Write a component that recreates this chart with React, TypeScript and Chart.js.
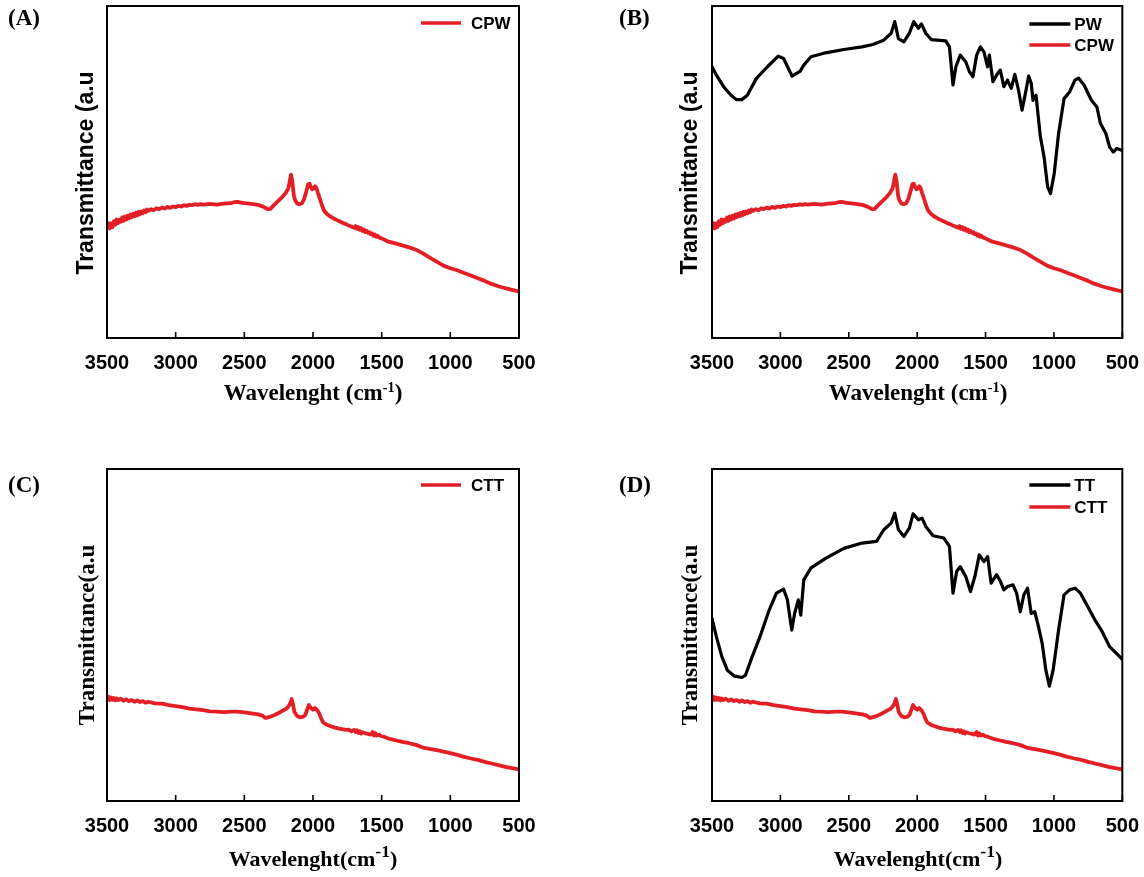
import React, { useEffect, useRef } from "react";
import { Chart, registerables } from "chart.js";

Chart.register(...registerables);

// ---------- DATA ----------
const waveTicks = [3500, 3000, 2500, 2000, 1500, 1000, 500];

const cpwWave = [3500,3490,3480,3470,3460,3450,3440,3430,3420,3410,3400,3390,3380,3370,3360,3350,3340,3330,3320,3310,3300,3290,3280,3270,3260,3250,3240,3230,3220,3210,
  3200,3180,3160,3140,3120,3100,3080,3060,3040,3020,3000,2980,2960,2940,2920,2900,2880,2860,2840,2820,2800,
  2750,2700,2650,2600,2575,2550,2525,2500,
  2450,2400,2360,2330,2310,2290,2260,2230,2200,2180,2170,2160,2150,2140,2130,2115,2100,2080,2065,2050,2035,2025,2015,2005,1995,1985,1975,1965,1950,1935,1920,1900,1875,1850,1825,1800,1780,1760,1740,1720,1700,
  1690,1680,1670,1660,1650,1640,1630,1620,1610,1600,1590,1580,1570,1560,1550,1540,1530,1520,
  1500,1480,1450,
  1400,1350,1300,1250,1200,1150,1100,1050,1000,950,900,850,800,750,700,650,600,550,500];
const cpwT = [33.5,34.6,33.0,34.5,33.4,35.2,34.1,35.7,34.6,35.6,35.0,36.3,35.3,36.6,35.7,36.8,36.0,37.2,36.4,37.4,36.7,37.7,36.9,38.0,37.3,38.1,37.6,38.4,37.9,38.7,
  38.3,38.8,38.5,39.1,38.8,39.3,39.0,39.5,39.2,39.6,39.4,39.8,39.6,40.0,39.8,40.1,40.0,40.3,40.1,40.3,40.2,
  40.4,40.2,40.5,40.6,40.9,41.0,40.8,40.6,
  40.4,40.1,39.5,38.8,38.9,39.8,41.0,42.2,43.6,45.0,47.0,49.2,47.0,43.0,41.5,40.5,40.3,40.6,41.8,44.0,46.3,46.5,45.5,44.8,45.0,45.7,45.2,43.8,42.0,40.0,38.4,37.4,36.6,36.0,35.5,35.0,34.6,34.3,33.9,33.6,33.2,
  33.7,32.9,33.4,32.6,33.1,32.3,32.7,31.9,32.3,31.7,31.9,31.3,31.5,30.8,31.2,30.5,30.8,30.3,
  30.0,29.6,29.0,
  28.5,27.9,27.3,26.6,25.5,24.2,23.0,21.8,21.0,20.4,19.6,18.8,18.0,17.2,16.3,15.6,15.0,14.5,14.0];

const pwWave = [3500,3468,3415,3361,3322,3282,3242,3175,3095,3016,2976,2936,2915,2882,2856,2829,2776,2670,2536,2403,2324,2244,2190,2164,2137,2097,2057,2025,1991,1969,1937,1897,1791,1764,1738,1717,1685,1645,1618,1592,1565,1538,1512,1485,1472,1446,1419,1392,1366,1339,1312,1286,1259,1233,1206,1185,1166,1153,1131,1099,1072,1046,1025,998,966,926,886,846,820,780,726,686,660,620,593,566,540,500];
const pwT = [81.7,79.2,75.7,73.1,71.8,71.8,73.1,78.2,81.7,84.9,84.2,80.7,78.9,79.7,80.3,82.2,84.7,85.9,86.9,87.7,88.4,89.7,91.8,95.3,90.2,89.2,91.8,95.3,93.3,94.6,91.8,89.9,89.5,87.7,76.2,81.7,85.2,83.2,80.2,78.7,85.2,87.7,86.2,81.7,85.2,77.2,79.2,80.7,75.7,77.7,75.2,79.4,74.7,68.6,74.2,78.9,76.7,71.6,73.1,60.6,54.5,45.5,43.5,49.5,61.6,72.1,74.1,77.7,78.3,76.2,71.6,69.6,64.6,61.6,57.5,56.0,57.1,56.5];

const cttWave = [3500,3490,3480,3470,3460,3450,3440,3430,3420,
  3400,3380,3360,3340,3320,3300,3280,3260,3240,3220,3200,
  3150,3100,3050,3000,2950,2900,2850,2800,2750,2700,2650,2600,2550,2500,2450,2400,
  2370,2345,2330,2310,2280,2250,2220,2190,2170,2155,2145,2135,2115,2095,2070,2055,2040,2030,2015,2000,1985,1970,1955,1940,1925,1900,1870,1840,1810,1780,1760,1740,1720,1700,
  1690,1680,1670,1660,1650,1640,1620,1600,1580,1565,1555,1545,1535,1520,1500,1480,1450,
  1400,1350,1300,1250,1200,1150,1100,1050,1000,950,900,850,800,750,700,650,600,550,500];
const cttT = [30.6,31.4,30.4,31.2,30.5,31.0,30.3,30.9,30.4,
  30.8,30.2,30.6,30.1,30.4,29.9,30.3,29.8,30.1,29.6,29.9,
  29.4,29.3,28.9,28.6,28.3,27.8,27.6,27.4,27.0,26.9,26.8,26.9,26.9,26.7,26.4,26.1,
  25.7,25.0,25.2,25.4,25.9,26.5,27.2,27.9,29.0,30.7,29.0,26.8,25.6,25.2,25.4,26.0,27.8,28.9,28.0,27.5,28.0,27.4,26.4,24.8,23.6,23.0,22.5,22.1,21.8,21.6,21.4,21.5,21.0,21.4,
  20.8,21.3,20.5,21.0,20.3,20.7,20.4,20.2,20.0,20.8,19.7,20.4,19.7,20.0,19.5,19.3,18.8,
  18.3,17.8,17.4,16.9,16.1,15.7,15.3,14.9,14.4,13.9,13.3,12.8,12.4,11.8,11.3,10.8,10.3,9.9,9.5];

const ttWave = [3500,3468,3428,3388,3335,3282,3255,3215,3149,3082,3029,2976,2949,2917,2896,2869,2851,2829,2776,2670,2536,2403,2297,2244,2190,2164,2137,2097,2057,2030,1991,1964,1937,1884,1805,1764,1738,1711,1685,1645,1610,1578,1546,1512,1485,1459,1419,1392,1366,1339,1299,1273,1246,1220,1193,1166,1140,1113,1086,1059,1033,1006,966,926,886,846,806,753,700,647,593,540,500];
const ttT = [55.0,49.5,43.5,39.4,37.6,37.2,37.9,42.5,49.5,57.5,62.6,63.8,60.6,51.5,56.5,60.6,56.0,66.6,70.2,73.1,76.1,77.7,78.2,81.7,83.7,86.7,81.7,79.7,82.2,86.5,84.7,85.2,82.7,79.9,79.2,76.7,62.6,69.2,70.6,67.6,63.1,67.6,74.1,72.1,73.6,65.6,68.2,66.2,63.6,64.6,65.1,62.6,57.0,62.1,64.1,56.5,57.0,52.5,47.5,39.4,34.6,39.4,51.5,62.1,63.6,64.1,62.6,58.6,54.5,51.0,46.5,44.3,42.7];

const RED = "#e31e24";
const BLACK = "#000000";
const SANS = '"Liberation Sans", Arial, Helvetica, sans-serif';
const SERIF = '"Liberation Serif", "Times New Roman", Times, serif';

type Series = { label: string; wave: number[]; vals: number[]; color: string };

type PanelCfg = {
  id: string;
  left: number;
  top: number;
  w: number;
  h: number;
  pad: { left: number; top: number; right: number; bottom: number };
  series: Series[];
  legend: { x0: number; y0: number; lineLen: number; gap: number; rowGap: number };
};

const panels: PanelCfg[] = [
  {
    id: "A", left: 0, top: 0, w: 560, h: 430,
    pad: { left: 107, top: 6, right: 41, bottom: 52 },
    series: [{ label: "CPW", wave: cpwWave, vals: cpwT, color: RED }],
    legend: { x0: 98, y0: 17, lineLen: 40, gap: 10, rowGap: 21 },
  },
  {
    id: "B", left: 570, top: 0, w: 574, h: 430,
    pad: { left: 142, top: 6, right: 20, bottom: 52 },
    series: [
      { label: "PW", wave: pwWave, vals: pwT, color: BLACK },
      { label: "CPW", wave: cpwWave, vals: cpwT, color: RED },
    ],
    legend: { x0: 93, y0: 18, lineLen: 41, gap: 4, rowGap: 21 },
  },
  {
    id: "C", left: 0, top: 440, w: 560, h: 437,
    pad: { left: 107, top: 29, right: 41, bottom: 36 },
    series: [{ label: "CTT", wave: cttWave, vals: cttT, color: RED }],
    legend: { x0: 98, y0: 16, lineLen: 40, gap: 10, rowGap: 22 },
  },
  {
    id: "D", left: 570, top: 440, w: 574, h: 437,
    pad: { left: 142, top: 29, right: 20, bottom: 36 },
    series: [
      { label: "TT", wave: ttWave, vals: ttT, color: BLACK },
      { label: "CTT", wave: cttWave, vals: cttT, color: RED },
    ],
    legend: { x0: 93, y0: 16, lineLen: 41, gap: 4, rowGap: 22 },
  },
];

function makeFramePlugin() {
  return {
    id: "frameTicks",
    afterDatasetsDraw(chart: any) {
      const { ctx, chartArea: a, scales } = chart;
      ctx.save();
      ctx.strokeStyle = "#000";
      ctx.lineWidth = 2;
      ctx.strokeRect(a.left, a.top, a.right - a.left, a.bottom - a.top);
      ctx.lineWidth = 1.6;
      scales.x.ticks.forEach((t: any) => {
        const px = scales.x.getPixelForValue(t.value);
        ctx.beginPath();
        ctx.moveTo(px, a.bottom);
        ctx.lineTo(px, a.bottom - 6);
        ctx.stroke();
      });
      ctx.restore();
    },
  };
}

function makeLegendPlugin(cfg: PanelCfg["legend"]) {
  return {
    id: "insideLegend",
    afterDraw(chart: any) {
      const { ctx, chartArea: a } = chart;
      ctx.save();
      chart.data.datasets.forEach((ds: any, i: number) => {
        const y = a.top + cfg.y0 + i * cfg.rowGap;
        const xs = a.right - cfg.x0;
        ctx.strokeStyle = ds.borderColor;
        ctx.lineWidth = 3.5;
        ctx.lineCap = "butt";
        ctx.beginPath();
        ctx.moveTo(xs, y);
        ctx.lineTo(xs + cfg.lineLen, y);
        ctx.stroke();
        ctx.fillStyle = "#000";
        ctx.font = `bold 17px ${SANS}`;
        ctx.textBaseline = "middle";
        ctx.textAlign = "left";
        ctx.fillText(ds.label, xs + cfg.lineLen + cfg.gap, y + 1);
      });
      ctx.restore();
    },
  };
}

function Panel({ cfg }: { cfg: PanelCfg }) {
  const ref = useRef<HTMLCanvasElement | null>(null);
  useEffect(() => {
    if (!ref.current) return;
    const chart = new Chart(ref.current, {
      type: "line",
      data: {
        datasets: cfg.series.map((s) => ({
          label: s.label,
          data: s.wave.map((w, i) => ({ x: w, y: s.vals[i] })),
          borderColor: s.color,
          backgroundColor: s.color,
          borderWidth: s.color === RED ? 3.8 : 3.2,
          borderJoinStyle: "round",
          borderCapStyle: "round",
          pointRadius: 0,
          tension: 0,
          fill: false,
        })),
      },
      options: {
        animation: false,
        responsive: false,
        devicePixelRatio: 1,
        layout: { padding: cfg.pad },
        plugins: { legend: { display: false }, tooltip: { enabled: false } },
        scales: {
          x: {
            type: "linear",
            reverse: true,
            min: 500,
            max: 3500,
            afterBuildTicks: (s: any) => {
              s.ticks = waveTicks.map((v) => ({ value: v }));
            },
            ticks: {
              font: { family: SANS, weight: "bold", size: 20 },
              color: "#000",
              padding: 5,
              maxRotation: 0,
              autoSkip: false,
              callback: (v: any) => String(v),
            },
            grid: { display: false },
            border: { display: false },
            afterFit: (s: any) => {
              s.height = 40;
            },
          },
          y: { display: false, min: 0, max: 100 },
        },
      } as any,
      plugins: [makeFramePlugin(), makeLegendPlugin(cfg.legend)],
    });
    return () => chart.destroy();
  }, [cfg]);
  return (
    <canvas
      ref={ref}
      width={cfg.w}
      height={cfg.h}
      style={{ position: "absolute", left: cfg.left, top: cfg.top, width: cfg.w, height: cfg.h, display: "block" }}
    />
  );
}

const abs = (s: React.CSSProperties): React.CSSProperties => ({ position: "absolute", whiteSpace: "nowrap", color: "#000", ...s });

export default function App() {
  const panelLabel = (t: string, x: number, y: number) => (
    <div style={abs({ left: x, top: y - 12, lineHeight: "24px", font: `bold 23px ${SERIF}` })}>{t}</div>
  );
  const xTitle = (cx: number, cy: number, spaced: boolean) => (
    <div
      style={abs({
        left: cx - 150, top: cy - 13, width: 300, textAlign: "center", lineHeight: "26px",
        font: `bold ${spaced ? 23 : 22}px ${SERIF}`,
      })}
    >
      {spaced ? "Wavelenght (cm" : "Wavelenght(cm"}
      <sup style={{ fontSize: spaced ? "62%" : "80%", lineHeight: 0, verticalAlign: spaced ? "0.55em" : "0.5em" }}>-1</sup>)
    </div>
  );
  const yTitle = (cx: number, cy: number, text: string, family: string) => (
    <div
      style={abs({
        left: cx, top: cy, lineHeight: "26px", font: `bold 23px ${family}`,
        transform: "translate(-50%, -50%) rotate(-90deg)",
      })}
    >
      {text}
    </div>
  );
  return (
    <div style={{ position: "absolute", left: 0, top: 0, width: 1144, height: 877, background: "#fff", overflow: "hidden" }}>
      {panels.map((p) => (
        <Panel key={p.id} cfg={p} />
      ))}
      {panelLabel("(A)", 8, 17)}
      {panelLabel("(B)", 619, 17)}
      {panelLabel("(C)", 8, 484)}
      {panelLabel("(D)", 619, 484)}
      {xTitle(313, 393, true)}
      {xTitle(918, 393, true)}
      {xTitle(313, 859, false)}
      {xTitle(918, 859, false)}
      {yTitle(85, 173, "Transmittance (a.u", SANS)}
      {yTitle(689, 173, "Transmittance (a.u", SANS)}
      {yTitle(87, 635, "Transmittance(a.u", SERIF)}
      {yTitle(690, 635, "Transmittance(a.u", SERIF)}
    </div>
  );
}
